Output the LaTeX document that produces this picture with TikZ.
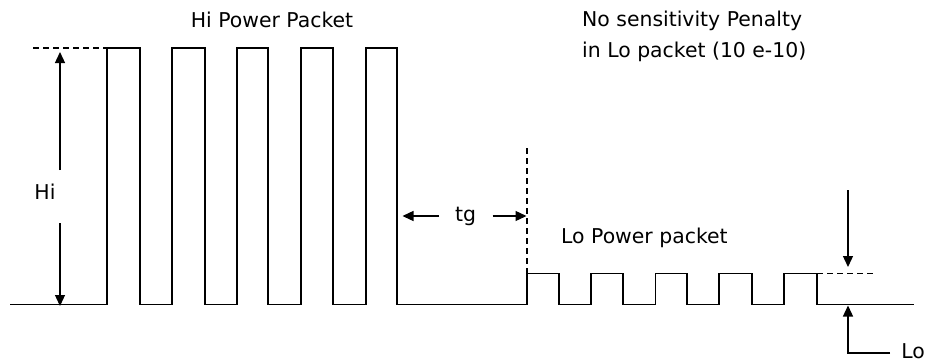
\documentclass[tikz,border=0pt]{standalone}
\usepackage{fontspec}
\setmainfont{DejaVu Sans}
\usetikzlibrary{arrows.meta}
\begin{document}
\begin{tikzpicture}[x=1bp,y=-1bp,
  wave/.style={line width=1.3bp,line join=miter},
  dimline/.style={line width=1.3bp},
  dashline/.style={line width=1.2bp,dash pattern=on 6bp off 4bp},
  tip/.style={-{Triangle[length=11bp,width=10bp]}},
  lbl/.style={inner sep=0pt,font=\fontsize{20.4bp}{31bp}\selectfont}]
\useasboundingbox (0,0) rectangle (928,362);
% waveform
\draw[wave] (10,304.5) -- (107,304.5)
  -- (107,48) -- (140,48) -- (140,304.5) -- (172,304.5)
  -- (172,48) -- (205,48) -- (205,304.5) -- (237,304.5)
  -- (237,48) -- (268,48) -- (268,304.5) -- (301,304.5)
  -- (301,48) -- (333,48) -- (333,304.5) -- (366,304.5)
  -- (366,48) -- (397,48) -- (397,304.5) -- (527,304.5)
  -- (527,273.5) -- (559,273.5) -- (559,304.5) -- (591,304.5)
  -- (591,273.5) -- (623,273.5) -- (623,304.5) -- (655.5,304.5)
  -- (655.5,273.5) -- (687,273.5) -- (687,304.5) -- (719,304.5)
  -- (719,273.5) -- (752,273.5) -- (752,304.5) -- (784,304.5)
  -- (784,273.5) -- (817,273.5) -- (817,304.5) -- (914,304.5);
% dashed guides
\draw[dashline] (33,48) -- (107,48);
\draw[dashline] (527,148) -- (527,304);
\draw[dashline] (817,273.5) -- (873,273.5);
% labels
\node[lbl] (hipk) at (272,20) {Hi Power Packet};
\node[lbl,align=left,anchor=west] (nosens) at (582,36) {No sensitivity Penalty\\in Lo packet (10 e-10)};
\node[lbl] (hi) at (45,192) {Hi};
\node[lbl] (tg) at (465.5,216) {tg};
\node[lbl,anchor=west] (lopk) at (561,238) {Lo Power packet};
\node[lbl,anchor=base east,text depth=0pt] (lo) at (925,358) {Lo};
% dimension arrows
\coordinate (hitop) at (60,52);
\coordinate (hibot) at (60,306);
\coordinate (hiu) at (60,170);
\coordinate (hid) at (60,223);
\draw[dimline,tip] (hiu) -- (hitop);
\draw[dimline,tip] (hid) -- (hibot);
\coordinate (tgl) at (402.5,216);
\coordinate (tgr) at (526.5,216);
\draw[dimline,tip] (439,216) -- (tgl);
\draw[dimline,tip] (492.5,216) -- (tgr);
\coordinate (lodtop) at (848,190);
\coordinate (lodtip) at (848,267);
\coordinate (loutip) at (848,305.5);
\coordinate (lobend) at (848,353);
\draw[dimline,tip] (lodtop) -- (lodtip);
\draw[dimline,tip] (890,353) -- (lobend) -- (loutip);
\end{tikzpicture}
\end{document}
